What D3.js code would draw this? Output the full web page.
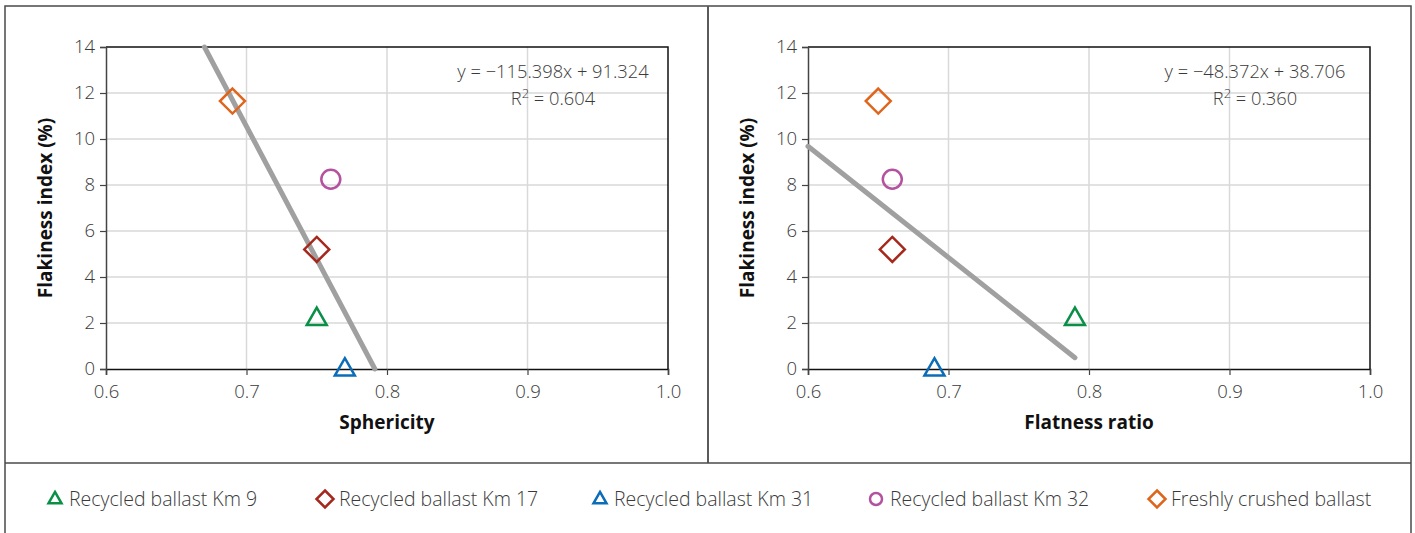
<!DOCTYPE html>
<html lang="en">
<head>
<meta charset="UTF-8">
<title>Flakiness index vs sphericity / flatness ratio</title>
<script src="https://d3js.org/d3.v7.min.js"></script>
<style>
    body { margin: 0; background: #fff; }
    svg { display: block; font-family: "Open Sans", "Noto Sans", sans-serif; }
</style>
</head>
<body>
<svg class="chart"></svg>
<script>
    const svgW = 1415
    const svgH = 533

    // series (one point per material)
    const seriesNames = ['Recycled ballast Km 9', 'Recycled ballast Km 17', 'Recycled ballast Km 31', 'Recycled ballast Km 32', 'Freshly crushed ballast']
    const seriesSymbols = ['triangle', 'diamond', 'triangle', 'circle', 'diamond']
    const seriesColors = ['#0a8f47', '#a6281c', '#0b6cb8', '#b4529f', '#e0651c']
    const flakiness = [2.2, 5.2, 0, 8.25, 11.65]
    const sphericity = [0.75, 0.75, 0.77, 0.76, 0.69]
    const flatness = [0.79, 0.66, 0.69, 0.66, 0.65]

    // trendlines
    const sphSlope = -115.398, sphIntercept = 91.324, sphR2 = '0.604'
    const flatSlope = -48.372, flatIntercept = 38.706, flatR2 = '0.360'
    const sphTrendRange = [0.66, 0.80]
    const flatTrendRange = [0.6, 0.79]

    const xTicks = [0.6, 0.7, 0.8, 0.9, 1.0]
    const yTicks = [0, 2, 4, 6, 8, 10, 12, 14]

    const svg = d3.select('.chart').attr('width', svgW).attr('height', svgH)

    // outer frame and dividers
    svg.append('rect').attr('x', 5).attr('y', 6).attr('width', 1406).attr('height', 540)
        .attr('fill', 'none').attr('stroke', '#4a4a4a').attr('stroke-width', 1.5)
    svg.append('line').attr('x1', 708).attr('x2', 708).attr('y1', 6).attr('y2', 463)
        .attr('stroke', '#5a5a5a').attr('stroke-width', 2)
    svg.append('line').attr('x1', 5).attr('x2', 1411).attr('y1', 463).attr('y2', 463)
        .attr('stroke', '#4a4a4a').attr('stroke-width', 1.5)

    function symbolPath(type, s) {
        if (type === 'triangle') {
            const h = s * 0.87
            return `M0,${-h * 0.62}L${s / 2},${h * 0.38}L${-s / 2},${h * 0.38}Z`
        }
        if (type === 'diamond') return `M0,${-s / 2}L${s / 2},0L0,${s / 2}L${-s / 2},0Z`
        return d3.arc()({ innerRadius: 0, outerRadius: s / 2, startAngle: 0, endAngle: 2 * Math.PI })
    }
    const markerSize = { triangle: 20, diamond: 25, circle: 19 }
    const legendSize = { triangle: 13, diamond: 17, circle: 12 }

    function drawPanel(left, xVals, slope, intercept, r2, trendRange, xTitle) {
        const x = d3.scaleLinear().domain([0.6, 1.0]).range([left, left + 562])
        const y = d3.scaleLinear().domain([0, 14]).range([369, 47])
        const g = svg.append('g')

        // grid
        g.selectAll('.gx').data(xTicks.slice(1, -1)).join('line')
            .attr('x1', d => x(d)).attr('x2', d => x(d)).attr('y1', y(0)).attr('y2', y(14))
            .attr('stroke', '#d9d9d9').attr('stroke-width', 1.5)
        g.selectAll('.gy').data(yTicks.slice(1, -1)).join('line')
            .attr('x1', x(0.6)).attr('x2', x(1.0)).attr('y1', d => y(d)).attr('y2', d => y(d))
            .attr('stroke', '#d9d9d9').attr('stroke-width', 1.5)

        // frame top/right
        g.append('path')
            .attr('d', `M${x(0.6)},${y(14)}H${x(1.0)}V${y(0)}`)
            .attr('fill', 'none').attr('stroke', '#111').attr('stroke-width', 1.5)

        // axes
        const xAxis = g.append('g').attr('transform', `translate(0,${y(0)})`)
            .call(d3.axisBottom(x).tickValues(xTicks).tickSize(6).tickFormat(d3.format('.1f')))
        const yAxis = g.append('g').attr('transform', `translate(${x(0.6)},0)`)
            .call(d3.axisLeft(y).tickValues(yTicks).tickSize(6))
        xAxis.select('.domain').attr('stroke', '#111').attr('stroke-width', 1.5)
        yAxis.select('.domain').attr('stroke', '#444').attr('stroke-width', 1.5)
        ;[xAxis, yAxis].forEach(a => {
            a.selectAll('.tick line').attr('stroke', '#444').attr('stroke-width', 1.2)
            a.selectAll('.tick text').attr('font-size', 18.5).attr('fill', '#3a3a3a')
                .attr('font-family', '"Open Sans", "Noto Sans", sans-serif').attr('font-weight', 300)
        })
        xAxis.selectAll('.tick text').attr('dy', '1.1em')
        yAxis.selectAll('.tick text').attr('dx', '-0.1em')

        // titles
        g.append('text').attr('x', (x(0.6) + x(1.0)) / 2).attr('y', 429)
            .attr('text-anchor', 'middle').attr('font-size', 19).attr('font-weight', 700).attr('fill', '#111')
            .text(xTitle)
        g.append('text').attr('transform', `translate(${left - 54},${y(7)}) rotate(-90)`)
            .attr('text-anchor', 'middle').attr('font-size', 19).attr('font-weight', 700).attr('fill', '#111')
            .text('Flakiness index (%)')

        // trendline, clipped to y in [0, 14]
        let x0 = Math.max(trendRange[0], (14 - intercept) / slope)
        let x1 = Math.min(trendRange[1], (0 - intercept) / slope)
        g.append('line')
            .attr('x1', x(x0)).attr('y1', y(slope * x0 + intercept))
            .attr('x2', x(x1)).attr('y2', y(slope * x1 + intercept))
            .attr('stroke', '#a0a0a0').attr('stroke-width', 5).attr('stroke-linecap', 'round')

        // equation
        const eq = g.append('text').attr('x', x(0.6) + 447).attr('y', 78)
            .attr('text-anchor', 'middle').attr('font-size', 18.3).attr('fill', '#3a3a3a').attr('font-weight', 300)
        eq.text(`y = \u2212${Math.abs(slope).toFixed(3)}x + ${intercept.toFixed(3)}`)
        const r = g.append('text').attr('x', x(0.6) + 447).attr('y', 105)
            .attr('text-anchor', 'middle').attr('font-size', 18.3).attr('fill', '#3a3a3a').attr('font-weight', 300)
        r.append('tspan').text('R')
        r.append('tspan').attr('dy', -7).attr('font-size', 13).text('2')
        r.append('tspan').attr('dy', 7).text(` = ${r2}`)

        // points
        g.selectAll('.pt').data(flakiness).join('path')
            .attr('transform', (d, i) => `translate(${x(xVals[i])},${y(d)})`)
            .attr('d', (d, i) => symbolPath(seriesSymbols[i], markerSize[seriesSymbols[i]]))
            .attr('fill', 'none').attr('stroke', (d, i) => seriesColors[i]).attr('stroke-width', 2.5)
    }

    drawPanel(106, sphericity, sphSlope, sphIntercept, sphR2, sphTrendRange, 'Sphericity')
    drawPanel(808, flatness, flatSlope, flatIntercept, flatR2, flatTrendRange, 'Flatness ratio')

    // legend
    const legendX = [55, 325, 600, 876, 1157]
    const lg = svg.append('g').selectAll('g').data(seriesNames).join('g')
        .attr('transform', (d, i) => `translate(${legendX[i]},499)`)
    lg.append('path')
        .attr('d', (d, i) => symbolPath(seriesSymbols[i], legendSize[seriesSymbols[i]]))
        .attr('fill', 'none').attr('stroke', (d, i) => seriesColors[i]).attr('stroke-width', 2.5)
    lg.append('text').attr('x', 14).attr('dy', '0.35em')
        .attr('font-size', 19.5).attr('fill', '#3a3a3a').attr('font-weight', 300)
        .text(d => d)
</script>
</body>
</html>
